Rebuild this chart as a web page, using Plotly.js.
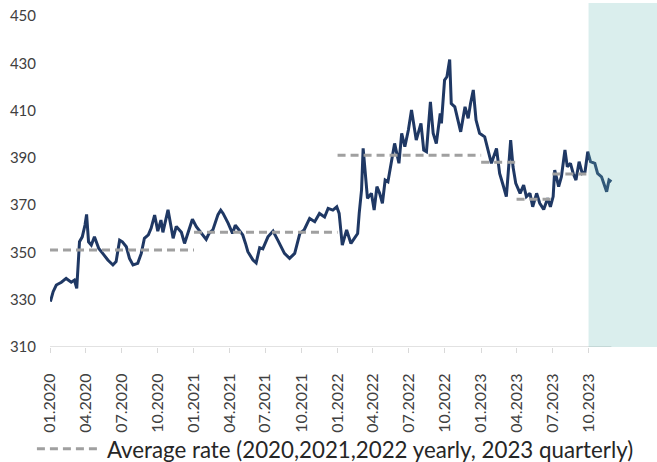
<!DOCTYPE html>
<html><head><meta charset="utf-8">
<script src="https://cdn.plot.ly/plotly-3.0.1.min.js"></script>
<style>html,body{margin:0;padding:0;background:#fff}#chart{width:657px;height:462px}</style>
</head><body><div id="chart"></div>
<script>
const dates = ['2020-01-02','2020-01-09','2020-01-17','2020-01-30','2020-02-11','2020-02-24','2020-03-03','2020-03-09','2020-03-16','2020-03-23','2020-03-30','2020-04-03','2020-04-08','2020-04-15','2020-04-23','2020-05-04','2020-05-14','2020-05-27','2020-06-09','2020-06-17','2020-06-26','2020-07-03','2020-07-13','2020-07-21','2020-07-30','2020-08-11','2020-08-20','2020-08-28','2020-09-07','2020-09-14','2020-09-23','2020-10-01','2020-10-09','2020-10-14','2020-10-27','2020-11-04','2020-11-09','2020-11-17','2020-11-30','2020-12-08','2020-12-17','2020-12-28',
'2021-01-07','2021-01-20','2021-02-01','2021-02-08','2021-02-18','2021-03-03','2021-03-10','2021-03-16','2021-03-29','2021-04-09','2021-04-16','2021-04-23','2021-05-05','2021-05-12','2021-05-18','2021-05-31','2021-06-08','2021-06-17','2021-06-25','2021-07-08','2021-07-21','2021-08-02','2021-08-19','2021-09-01','2021-09-14','2021-09-27','2021-10-08','2021-10-22','2021-11-04','2021-11-16','2021-11-29','2021-12-08','2021-12-20','2021-12-30',
'2022-01-05','2022-01-13','2022-01-24','2022-02-04','2022-02-14','2022-02-21','2022-02-25','2022-03-03','2022-03-07','2022-03-14','2022-03-18','2022-03-28','2022-04-04','2022-04-11','2022-04-18','2022-04-25','2022-05-02','2022-05-09','2022-05-18','2022-05-26','2022-06-06','2022-06-13','2022-06-21','2022-06-30','2022-07-08','2022-07-20','2022-08-01','2022-08-08','2022-08-15','2022-08-25','2022-09-01','2022-09-09','2022-09-19','2022-09-22','2022-09-30','2022-10-06','2022-10-13','2022-10-17','2022-10-26','2022-11-03','2022-11-10','2022-11-21','2022-11-29','2022-12-05','2022-12-12','2022-12-19','2022-12-28',
'2023-01-10','2023-01-18','2023-01-27','2023-02-09','2023-02-17','2023-02-27','2023-03-06','2023-03-10','2023-03-17','2023-03-23','2023-03-30','2023-04-10','2023-04-19','2023-04-26','2023-05-05','2023-05-12','2023-05-22','2023-05-30','2023-06-09','2023-06-19','2023-06-26','2023-07-03','2023-07-07','2023-07-17','2023-07-24','2023-08-02','2023-08-08','2023-08-16','2023-08-23','2023-08-30','2023-09-07','2023-09-15','2023-09-22','2023-09-29','2023-10-06','2023-10-17','2023-10-24','2023-11-03','2023-11-09','2023-11-16','2023-11-22','2023-11-28'];
const rates = [329.2,333.4,336.2,337.4,339.0,337.4,338.3,334.8,354.5,356.6,361.6,366.1,354.5,353.1,356.6,351.7,349.6,346.8,344.7,346.1,355.2,354.5,352.4,347.5,344.7,345.4,349.6,356.0,357.4,360.2,365.8,359.0,363.7,358.5,368.0,360.5,356.0,361.0,358.5,353.8,358.5,364.0,
360.9,358.0,355.5,358.0,359.5,366.0,367.9,366.5,362.3,358.0,361.5,360.0,357.4,353.8,350.3,346.8,345.6,352.0,351.5,356.6,359.0,355.2,349.6,347.5,349.6,358.0,359.5,364.4,363.0,366.5,365.0,368.6,367.9,369.3,
366.5,353.1,359.5,353.8,356.6,358.0,366.5,376.4,394.0,379.2,372.9,375.0,367.9,377.8,375.0,370.8,380.6,379.9,387.7,396.1,387.7,400.4,394.7,401.8,410.2,397.5,404.6,393.3,392.6,413.7,400.4,396.1,408.8,404.6,422.9,424.3,431.6,413.0,411.6,406.0,401.0,411.6,406.7,413.0,418.7,406.0,400.4,
398.9,394.0,387.7,394.0,383.4,377.8,373.6,382.0,397.5,386.2,379.2,375.0,378.5,373.6,375.0,369.3,375.0,370.8,368.2,372.9,369.3,373.6,384.8,377.8,382.0,393.3,386.2,387.7,383.4,380.6,388.4,383.4,384.1,392.6,388.4,387.7,383.4,382.0,379.2,375.7,380.6,379.9];

const avgLabel = 'Average rate (2020,2021,2022 yearly, 2023 quarterly)';
const avgStart = ['2020-01-01','2021-01-01','2022-01-01','2023-01-01','2023-04-01','2023-07-01'];
const avgEnd   = ['2021-01-01','2022-01-01','2023-01-01','2023-04-01','2023-07-01','2023-10-01'];
const avgValue = [351.0, 358.5, 391.1, 388.1, 372.5, 383.2];

const tickDates = ['2020-01-01','2020-04-01','2020-07-01','2020-10-01','2021-01-01','2021-04-01','2021-07-01','2021-10-01','2022-01-01','2022-04-01','2022-07-01','2022-10-01','2023-01-01','2023-04-01','2023-07-01','2023-10-01'];
const tickLabels = ['01.2020','04.2020','07.2020','10.2020','01.2021','04.2021','07.2021','10.2021','01.2022','04.2022','07.2022','10.2022','01.2023','04.2023','07.2023','10.2023'];
const yTicks = [310,330,350,370,390,410,430,450];
const forecastStart = '2023-10-01';
const xRange = ['2020-01-01','2024-03-23'];
const yRange = [310, 455.5];

const ax = [], ay = [];
avgStart.forEach((s, i) => { ax.push(s, avgEnd[i], null); ay.push(avgValue[i], avgValue[i], null); });

const traces = [
  {x: dates, y: rates, type: 'scatter', mode: 'lines', showlegend: false,
   line: {color: '#1F3864', width: 3}, hoverinfo: 'skip'},
  {x: ax, y: ay, type: 'scatter', mode: 'lines', name: avgLabel, connectgaps: false,
   line: {color: '#A0A0A0', width: 3, dash: '8px,5px'}, hoverinfo: 'skip'}
];

const layout = {
  width: 657, height: 462,
  margin: {l: 50, r: 0, t: 3, b: 115, pad: 0, autoexpand: false},
  paper_bgcolor: '#ffffff', plot_bgcolor: '#ffffff',
  font: {family: 'Lato, "Open Sans", sans-serif', color: '#404040'},
  xaxis: {type: 'date', range: xRange, tickmode: 'array', tickvals: tickDates, ticktext: tickLabels,
          tickangle: -90, tickfont: {size: 16, color: '#404040'}, ticks: 'outside', ticklen: 5,
          tickcolor: '#d9d9d9', tickwidth: 1, showgrid: false, zeroline: false, showline: false,
          ticklabelstandoff: 14, automargin: false, fixedrange: true},
  yaxis: {range: yRange, tickmode: 'array', tickvals: yTicks, tickfont: {size: 15, color: '#404040'},
          showgrid: false, zeroline: false, showline: false, ticks: '', ticklabelstandoff: 13,
          automargin: false, fixedrange: true},
  showlegend: true,
  legend: {x: -0.0298, xanchor: 'left', y: -0.296, yanchor: 'middle', orientation: 'h',
           font: {size: 22.3, color: '#262626'}, itemwidth: 65, bgcolor: 'rgba(0,0,0,0)', borderwidth: 0},
  shapes: [
    {type: 'line', xref: 'x', yref: 'y', x0: tickDates[0], x1: dates[dates.length - 1], y0: yRange[0], y1: yRange[0],
     line: {color: '#D9D9D9', width: 1.5}, layer: 'below'},
    {type: 'rect', xref: 'x', yref: 'paper', x0: forecastStart, x1: xRange[1], y0: 0, y1: 1,
     fillcolor: '#6CBCB8', opacity: 0.25, line: {width: 0}, layer: 'above'}
  ]
};

Plotly.newPlot('chart', traces, layout, {displayModeBar: false, staticPlot: true});
</script>
</body></html>
